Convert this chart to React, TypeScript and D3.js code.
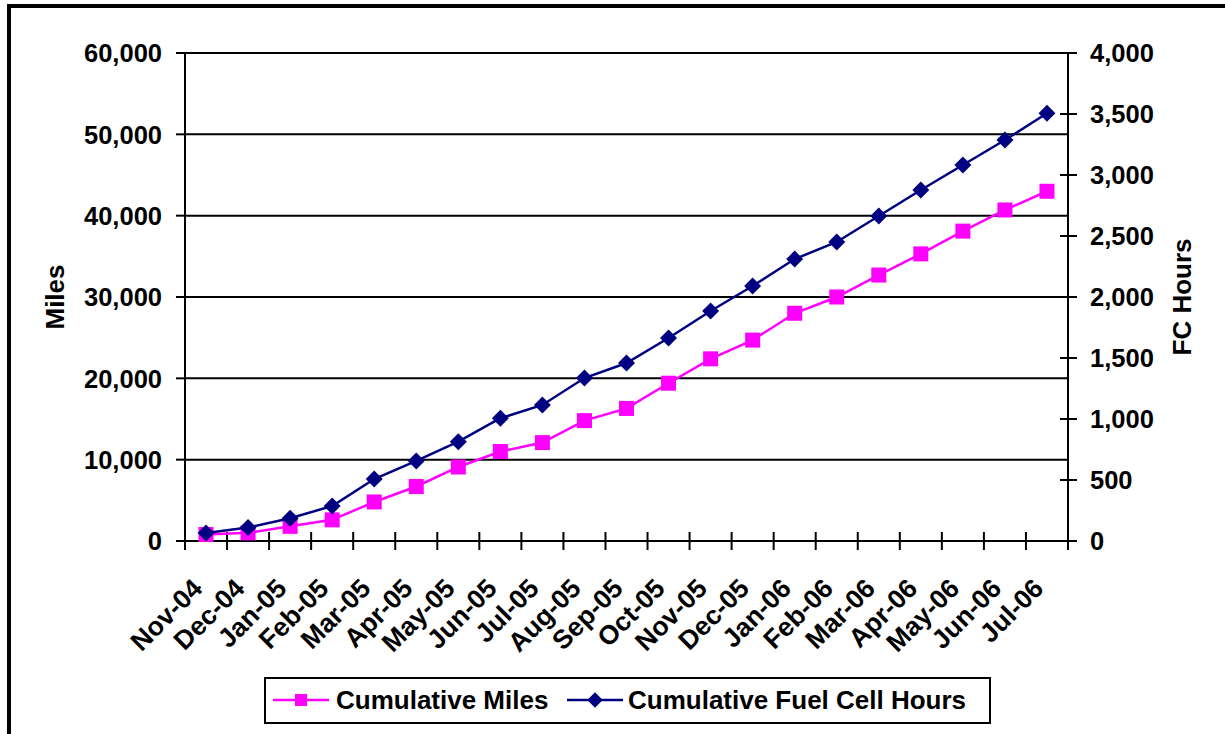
import React from "react";
import * as d3 from "d3";

const months = ["Nov-04","Dec-04","Jan-05","Feb-05","Mar-05","Apr-05","May-05","Jun-05","Jul-05","Aug-05","Sep-05","Oct-05","Nov-05","Dec-05","Jan-06","Feb-06","Mar-06","Apr-06","May-06","Jun-06","Jul-06"];
const cumulativeMiles = [800,1000,1800,2600,4800,6700,9100,11000,12100,14800,16300,19400,22400,24700,28000,30000,32700,35300,38100,40700,43000];
const cumulativeFcHours = [65,110,186,287,508,656,814,1006,1115,1336,1459,1664,1885,2090,2311,2451,2664,2877,3082,3287,3506];
const milesTicks = [0,10000,20000,30000,40000,50000,60000];
const hoursTicks = [0,500,1000,1500,2000,2500,3000,3500,4000];

const W = 1225, H = 734;
const L = 185, R = 1068, T = 53, B = 541;
const FONT = "'Liberation Sans', Arial, sans-serif";
const MAGENTA = "#FF00FF";
const NAVY = "#000080";

export default function App() {
  const x = d3.scaleBand<string>().domain(months).range([L, R]).paddingInner(0).paddingOuter(0);
  const yL = d3.scaleLinear().domain([0, 60000]).range([B, T]);
  const yR = d3.scaleLinear().domain([0, 4000]).range([B, T]);
  const fmt = d3.format(",");
  const cx = (m: string) => (x(m) as number) + x.bandwidth() / 2;

  const milesLine = d3.line<number>().x((_, i) => cx(months[i])).y((d) => yL(d));
  const hoursLine = d3.line<number>().x((_, i) => cx(months[i])).y((d) => yR(d));
  const boundaries = d3.range(months.length + 1).map((i) => L + i * x.bandwidth());

  return (
    <svg width={W} height={H} style={{ position: "absolute", left: 0, top: 0, background: "#fff" }} fontFamily={FONT} fontWeight="bold">
      <rect x={9} y={6} width={1240} height={760} fill="#fff" stroke="#000" strokeWidth={4} />
      {milesTicks.map((t) => (
        <line key={"g" + t} x1={L} x2={R} y1={yL(t)} y2={yL(t)} stroke="#000" strokeWidth={2} />
      ))}
      <line x1={L} x2={L} y1={T} y2={B} stroke="#000" strokeWidth={2} />
      {milesTicks.map((t) => (
        <g key={"l" + t}>
          <line x1={L - 9} x2={L} y1={yL(t)} y2={yL(t)} stroke="#000" strokeWidth={2} />
          <text x={162} y={yL(t)} dy="0.36em" textAnchor="end" fontSize={25.5}>{fmt(t)}</text>
        </g>
      ))}
      <line x1={R} x2={R} y1={T} y2={B} stroke="#000" strokeWidth={2} />
      {hoursTicks.map((t) => (
        <g key={"r" + t}>
          <line x1={R - 8} x2={R + 9} y1={yR(t)} y2={yR(t)} stroke="#000" strokeWidth={2} />
          <text x={1090} y={yR(t)} dy="0.36em" textAnchor="start" fontSize={25.5}>{fmt(t)}</text>
        </g>
      ))}
      {boundaries.map((b, i) => (
        <line key={"xt" + i} x1={b} x2={b} y1={B - 9} y2={B + 9} stroke="#000" strokeWidth={2} />
      ))}
      {months.map((m) => (
        <text key={"xl" + m} transform={`translate(${cx(m) - 2},${590}) rotate(-45)`} textAnchor="end" fontSize={26.5}>{m}</text>
      ))}
      <text transform={`translate(64,297) rotate(-90)`} textAnchor="middle" fontSize={26}>Miles</text>
      <text transform={`translate(1191,297) rotate(-90)`} textAnchor="middle" fontSize={26}>FC Hours</text>
      <path d={milesLine(cumulativeMiles) || ""} fill="none" stroke={MAGENTA} strokeWidth={2.5} />
      {cumulativeMiles.map((v, i) => (
        <rect key={"m" + i} x={cx(months[i]) - 7.5} y={yL(v) - 7.5} width={15} height={15} fill={MAGENTA} />
      ))}
      <path d={hoursLine(cumulativeFcHours) || ""} fill="none" stroke={NAVY} strokeWidth={2.5} />
      {cumulativeFcHours.map((v, i) => (
        <rect key={"h" + i} x={-6} y={-6} width={12} height={12} fill={NAVY} transform={`translate(${cx(months[i])},${yR(v)}) rotate(45)`} />
      ))}
      <rect x={265} y={678} width={725} height={45} fill="#fff" stroke="#000" strokeWidth={2} />
      <line x1={273} x2={329} y1={700} y2={700} stroke={MAGENTA} strokeWidth={2.5} />
      <rect x={295} y={694} width={12} height={12} fill={MAGENTA} />
      <text x={336} y={709} fontSize={26}>Cumulative Miles</text>
      <line x1={567} x2={623} y1={700} y2={700} stroke={NAVY} strokeWidth={2.5} />
      <rect x={-5.5} y={-5.5} width={11} height={11} fill={NAVY} transform="translate(595,700) rotate(45)" />
      <text x={628} y={709} fontSize={26}>Cumulative Fuel Cell Hours</text>
    </svg>
  );
}
